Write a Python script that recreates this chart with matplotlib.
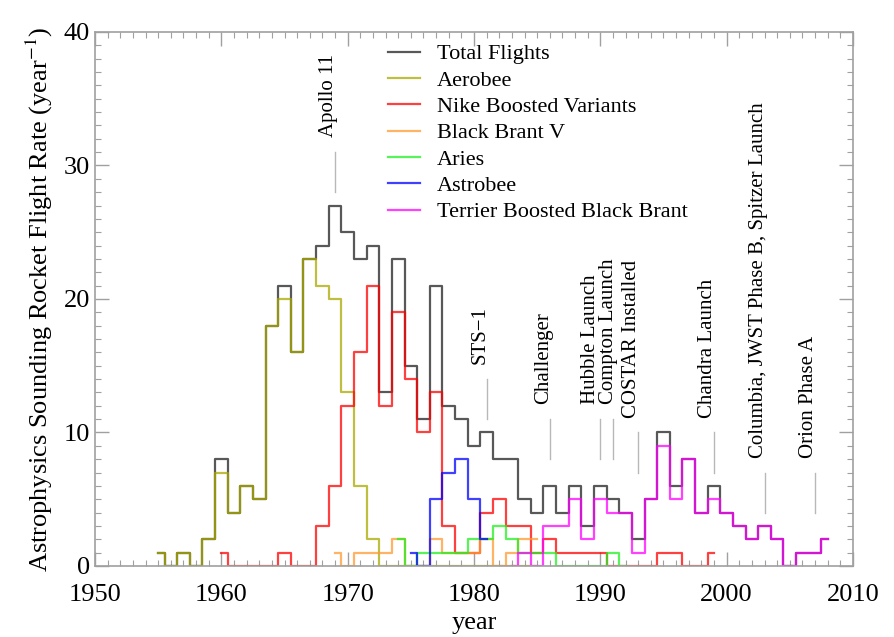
import numpy as np
import matplotlib
matplotlib.use('Agg')
import matplotlib.pyplot as plt
from matplotlib.ticker import MultipleLocator

plt.rcParams['font.family'] = ['Liberation Serif', 'DejaVu Serif']
plt.rcParams['mathtext.fontset'] = 'stix'

# flights per year
total_years = list(range(1955, 2009))
total = [1, 0, 1, 0, 2, 8, 4, 6, 5, 18, 21, 16, 23, 24, 27, 25, 23, 24, 13, 23,
         15, 11, 21, 12, 11, 9, 10, 8, 8, 5, 4, 6, 4, 6, 3, 6, 5, 4, 2, 5,
         10, 6, 8, 4, 6, 4, 3, 2, 3, 2, 0, 1, 1, 2]

aerobee_years = list(range(1955, 1986))
aerobee = [1, 0, 1, 0, 2, 7, 4, 6, 5, 18, 20, 16, 23, 21, 20, 13, 6, 2, 0, 0,
           0, 0, 0, 0, 0, 0, 0, 0, 0, 0, 0]

nike_years = list(range(1960, 2000))
nike = [1, 0, 0, 0, 0, 1, 0, 0, 3, 6, 12, 16, 21, 12, 19, 14, 10, 13, 3, 1,
        1, 4, 5, 3, 3, 1, 2, 1, 1, 1, 1, 0, 0, 0, 0, 1, 1, 0, 0, 1]

bbv_years = list(range(1969, 1986))
bbv = [1, 0, 1, 1, 1, 2, 0, 0, 2, 1, 1, 1, 2, 0, 1, 2, 2]

aries_years = list(range(1974, 1993))
aries = [2, 0, 1, 1, 1, 1, 2, 2, 3, 2, 1, 1, 1, 0, 0, 0, 0, 1, 0]

astrobee_years = list(range(1975, 1982))
astrobee = [1, 0, 5, 7, 8, 5, 2]

terrier_years = list(range(1983, 2009))
terrier = [0, 1, 0, 3, 3, 5, 2, 5, 4, 4, 1, 5, 9, 5, 8, 4, 5, 4, 3, 2,
           3, 2, 0, 1, 1, 2]

series = [
    ("Total Flights", total_years, total, "#202020"),
    ("Aerobee", aerobee_years, aerobee, "#a8a800"),
    ("Nike Boosted Variants", nike_years, nike, "#ff0000"),
    ("Black Brant V", bbv_years, bbv, "#ff9a30"),
    ("Aries", aries_years, aries, "#20f020"),
    ("Astrobee", astrobee_years, astrobee, "#0000ff"),
    ("Terrier Boosted Black Brant", terrier_years, terrier, "#ff00ff"),
]

# event markers: (label, year, line bottom, line top, text x shift)
events = [
    ("Apollo 11", 1969, 28, 31, 0.25),
    ("STS\u22121", 1981, 11, 14, 0.25),
    ("Challenger", 1986, 8, 11, 0.25),
    ("Hubble Launch", 1990, 8, 11, 0.0),
    ("Compton Launch", 1991, 8, 11, 0.4),
    ("COSTAR Installed", 1993, 7, 10, 0.25),
    ("Chandra Launch", 1999, 7, 10, 0.25),
    ("Columbia, JWST Phase B, Spitzer Launch", 2003, 4, 7, 0.25),
    ("Orion Phase A", 2007, 4, 7, 0.25),
]

fig = plt.figure(figsize=(8.94, 6.37), dpi=100)
ax = fig.add_axes([0.1063, 0.1115, 0.8478, 0.8383])

for name, yrs, vals, col in series:
    ax.step(yrs, vals, where='mid', color=col, lw=1.6, alpha=0.75, label=name)

for label, yr, lo, hi, dx in events:
    ax.plot([yr, yr], [lo, hi], color='#b8b8b8', lw=1.0)
    ax.text(yr + dx, hi + 1.1, label, rotation=90, ha='right', va='bottom',
            fontsize=15, color='black')

ax.set_xlim(1950, 2010)
ax.set_ylim(0, 40)
ax.xaxis.set_major_locator(MultipleLocator(10))
ax.xaxis.set_minor_locator(MultipleLocator(1))
ax.yaxis.set_major_locator(MultipleLocator(10))
ax.yaxis.set_minor_locator(MultipleLocator(1))
ax.tick_params(which='both', direction='in', top=True, right=True,
               color='#a0a0a0', labelsize=19, labelcolor='black')
ax.tick_params(which='major', length=10, width=1)
ax.tick_params(which='minor', length=4, width=0.8)
ax.tick_params(axis='x', pad=13)
for sp in ax.spines.values():
    sp.set_color('#a0a0a0')
    sp.set_linewidth(1.2)

ax.set_xlabel("year", fontsize=19, labelpad=4)
ax.set_ylabel("Astrophysics Sounding Rocket Flight Rate (year$^{-1}$)", fontsize=19, labelpad=6)

leg = ax.legend(loc='upper left', bbox_to_anchor=(0.3865, 0.978), frameon=False,
                fontsize=16, handlelength=1.45, handletextpad=0.75,
                labelspacing=0.26, borderpad=0, borderaxespad=0)

plt.savefig('out.png', dpi=100)
